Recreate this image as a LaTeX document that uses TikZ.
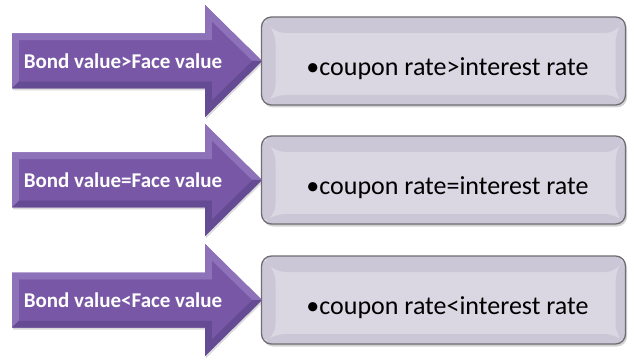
\documentclass[tikz,border=0pt]{standalone}
\usepackage{fontspec}
\setmainfont{Carlito}
\usetikzlibrary{calc}
\usetikzlibrary{shadows}

\definecolor{arrowmid}{HTML}{7858A6}
\definecolor{arrowlight}{HTML}{8D72BA}
\definecolor{arrowdark}{HTML}{654A94}
\definecolor{boxfill}{HTML}{DAD6E2}
\definecolor{boxlight}{HTML}{E9E7EF}
\definecolor{boxdark}{HTML}{CCC7D6}
\definecolor{boxline}{HTML}{6E6E73}

\tikzset{
  ratebox/.style={draw=boxline, line width=1.3pt, rounded corners=10pt, fill=boxfill,
    minimum width=364pt, minimum height=88pt, inner sep=0pt,
    drop shadow={shadow xshift=1.5pt, shadow yshift=-2.5pt, opacity=.35},
    path picture={
      \path let \p1=(path picture bounding box.north west),
                \p2=(path picture bounding box.south east) in
        [fill=boxlight] (\x1,\y1) -- (\x2,\y1) -- (\x2-10pt,\y1-16pt) -- (\x1+14pt,\y1-16pt) -- cycle
        [fill=white!70!boxlight] (\x1,\y1) -- (\x1+14pt,\y1-16pt) -- (\x1+14pt,\y2+10pt) -- (\x1,\y2) -- cycle
        [fill=boxdark] (\x1,\y2) -- (\x1+14pt,\y2+10pt) -- (\x2-10pt,\y2+10pt) -- (\x2,\y2) -- cycle
        [fill=boxdark] (\x2,\y1) -- (\x2-10pt,\y1-16pt) -- (\x2-10pt,\y2+10pt) -- (\x2,\y2) -- cycle;
    }},
  ratetext/.style={font=\fontsize{26}{30}\selectfont, text=black, inner sep=0pt},
  bondtext/.style={font=\fontsize{21}{25}\selectfont\bfseries, text=white, inner sep=0pt},
}

\begin{document}
\begin{tikzpicture}[x=1pt,y=-1pt]

  \useasboundingbox (0,0) rectangle (628,363);

  \foreach \c/\rel [count=\i] in {61/>, 180/=, 300/<} {

    % purple arrow with bevelled edges
    \path[fill=arrowmid, drop shadow={shadow xshift=1pt, shadow yshift=-2pt, opacity=.3}]
      (12,\c-27.5) -- (205,\c-27.5) -- (205,\c-56) -- (262,\c)
      -- (205,\c+56) -- (205,\c+27.5) -- (12,\c+27.5) -- cycle;
    \fill[arrowlight] (12,\c+27.5) -- (12,\c-27.5) -- (205,\c-27.5) -- (205,\c-56) -- (262,\c)
      -- (252,\c) -- (212,\c-39) -- (212,\c-20.5) -- (19,\c-20.5) -- (19,\c+20.5) -- cycle;
    \fill[arrowdark] (12,\c+27.5) -- (205,\c+27.5) -- (205,\c+56) -- (262,\c)
      -- (252,\c) -- (212,\c+39) -- (212,\c+20.5) -- (19,\c+20.5) -- cycle;
    \fill[arrowmid] (19,\c-20.5) -- (212,\c-20.5) -- (212,\c-39) -- (252,\c)
      -- (212,\c+39) -- (212,\c+20.5) -- (19,\c+20.5) -- cycle;
    \node[bondtext] (a\i) at (123,\c) {Bond value\rel Face value};

    % grey box on the right
    \node[ratebox] (b\i) at (443.5,\c) {};
    \node[ratetext] (t\i) at ([xshift=4pt,yshift=-8pt]b\i.center) {\textbullet coupon rate\rel interest rate};
  }

\end{tikzpicture}
\end{document}
